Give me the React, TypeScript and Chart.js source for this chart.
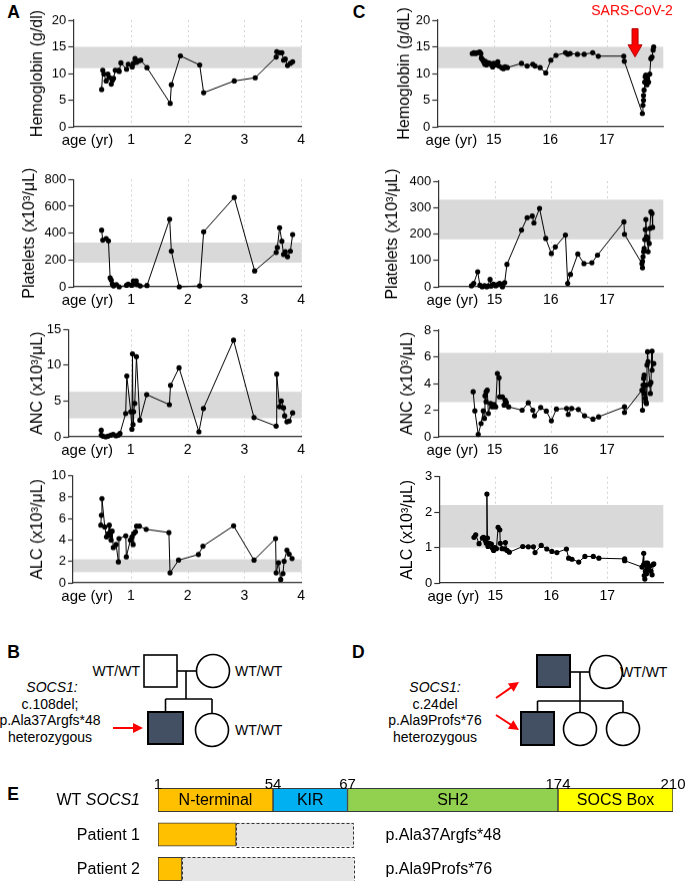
import React, { useEffect, useRef } from 'react';
import { Chart, registerables, LinearScale } from 'chart.js';

Chart.register(...registerables);

const FONT = "'Liberation Sans', Arial, Helvetica, sans-serif";
Chart.defaults.font.family = FONT;
Chart.defaults.color = '#000';

// ---------------- Panel A (patient 1, age in years) ----------------
const hbA_age = [0.48, 0.5, 0.52, 0.56, 0.59, 0.62, 0.65, 0.67, 0.69, 0.72, 0.78, 0.79, 0.82, 0.92, 0.95, 1.02, 1.04, 1.07, 1.1, 1.14, 1.17, 1.28, 1.69, 1.71, 1.87, 2.21, 2.28, 2.82, 3.19, 3.56, 3.57, 3.62, 3.66, 3.69, 3.72, 3.76, 3.81, 3.85];
const hbA = [7.0, 10.6, 9.9, 8.6, 9.9, 9.25, 8.0, 8.75, 9.1, 10.6, 10.6, 10.4, 12.0, 10.8, 11.75, 11.25, 11.9, 12.8, 12.1, 12.4, 12.5, 11.1, 4.4, 7.9, 13.3, 11.6, 6.4, 8.6, 9.2, 13.1, 14.1, 13.9, 13.9, 12.5, 12.7, 11.5, 11.9, 12.2];

const pltA_age = [0.48, 0.5, 0.56, 0.6, 0.63, 0.65, 0.67, 0.69, 0.74, 0.79, 0.92, 0.95, 1.01, 1.04, 1.07, 1.09, 1.11, 1.16, 1.28, 1.68, 1.71, 1.85, 2.21, 2.28, 2.82, 3.18, 3.56, 3.58, 3.62, 3.66, 3.69, 3.72, 3.76, 3.81, 3.85];
const pltA = [422, 348, 360, 343, 67, 50, 20, 7, 17, 0, 12, 20, 12, 45, 25, 45, 17, 7, 10, 504, 266, 0, 7, 410, 666, 119, 256, 293, 440, 340, 241, 261, 224, 266, 390];

const ancA_age = [0.48, 0.48, 0.51, 0.56, 0.6, 0.65, 0.69, 0.74, 0.78, 0.81, 0.91, 0.93, 1.0, 1.02, 1.03, 1.04, 1.05, 1.07, 1.1, 1.16, 1.28, 1.68, 1.7, 1.85, 2.2, 2.28, 2.81, 3.17, 3.56, 3.57, 3.62, 3.65, 3.69, 3.71, 3.75, 3.79, 3.85];
const ancA = [0.93, 0.23, 0.1, 0, 0.1, 0.23, 0.33, 0.14, 0.23, 0.47, 3.26, 8.5, 3.5, 1.07, 11.6, 1.72, 3.5, 4.66, 11.2, 2.33, 5.9, 4.5, 7.2, 9.64, 0.7, 3.96, 13.5, 2.7, 1.5, 8.76, 4.2, 5.0, 4.05, 2.93, 2.1, 2.2, 3.35];

const alcA_age = [0.47, 0.48, 0.49, 0.54, 0.57, 0.6, 0.62, 0.63, 0.65, 0.67, 0.69, 0.74, 0.78, 0.79, 0.91, 0.92, 0.99, 1.02, 1.04, 1.05, 1.08, 1.1, 1.15, 1.27, 1.67, 1.69, 1.84, 2.19, 2.27, 2.81, 3.17, 3.55, 3.56, 3.6, 3.64, 3.68, 3.7, 3.75, 3.79, 3.84];
const alcA = [5.39, 6.32, 7.88, 5.23, 4.3, 4.6, 5.39, 4.45, 3.99, 4.83, 3.3, 3.58, 1.96, 4.14, 4.39, 2.43, 3.99, 4.3, 3.58, 4.6, 4.77, 5.3, 5.3, 5.0, 4.7, 0.93, 2.12, 2.65, 3.43, 5.33, 2.12, 4.14, 0.93, 1.87, 0.31, 0.87, 2.02, 3.05, 2.68, 2.27];

// ---------------- Panel C (patient 2, age in years) ----------------
const hbC_age = [14.62, 14.65, 14.68, 14.71, 14.75, 14.77, 14.78, 14.8, 14.82, 14.84, 14.85, 14.87, 14.9, 14.93, 14.96, 14.98, 15.0, 15.04, 15.07, 15.09, 15.14, 15.17, 15.2, 15.24, 15.49, 15.59, 15.69, 15.73, 15.82, 15.92, 16.01, 16.1, 16.27, 16.31, 16.35, 16.48, 16.6, 16.75, 16.85, 17.3, 17.31, 17.63, 17.64, 17.65, 17.65, 17.66, 17.67, 17.68, 17.69, 17.7, 17.71, 17.72, 17.74, 17.76, 17.78, 17.8, 17.82, 17.83];
const hbC = [13.75, 13.9, 13.75, 13.9, 14.06, 13.75, 12.9, 12.6, 12.2, 11.75, 12.3, 11.6, 12.0, 11.9, 11.6, 11.25, 11.9, 11.6, 12.2, 11.4, 11.1, 10.9, 11.25, 11.1, 11.9, 11.4, 11.75, 11.4, 11.1, 10.1, 12.5, 13.4, 13.9, 13.6, 13.75, 13.6, 13.6, 13.9, 13.25, 13.25, 12.3, 2.5, 4.06, 5.0, 5.9, 6.9, 8.4, 9.4, 9.7, 8.75, 7.9, 9.06, 8.4, 9.9, 12.8, 13.1, 14.4, 15.0];

const pltC_age = [14.59, 14.63, 14.7, 14.74, 14.78, 14.82, 14.86, 14.88, 14.92, 14.94, 14.98, 15.02, 15.06, 15.09, 15.14, 15.15, 15.18, 15.22, 15.48, 15.58, 15.67, 15.7, 15.8, 15.91, 16.01, 16.08, 16.26, 16.3, 16.35, 16.48, 16.59, 16.73, 16.83, 17.3, 17.31, 17.62, 17.63, 17.63, 17.64, 17.65, 17.66, 17.67, 17.68, 17.69, 17.7, 17.71, 17.72, 17.73, 17.75, 17.76, 17.78, 17.8, 17.81];
const pltC = [4, 13, 57, 6, 0, 4, 0, 3, 28, 3, 10, 4, 9, 13, 0, 10, 16, 85, 215, 262, 268, 242, 297, 183, 126, 151, 196, 13, 47, 124, 88, 91, 120, 246, 199, 88, 72, 97, 114, 133, 145, 179, 217, 255, 189, 179, 187, 133, 164, 221, 284, 278, 225];

const ancC_age = [14.62, 14.65, 14.71, 14.76, 14.8, 14.82, 14.83, 14.85, 14.85, 14.87, 14.89, 14.93, 14.96, 14.99, 15.02, 15.05, 15.08, 15.09, 15.14, 15.17, 15.19, 15.21, 15.25, 15.49, 15.6, 15.68, 15.71, 15.82, 15.92, 16.01, 16.1, 16.28, 16.31, 16.37, 16.49, 16.6, 16.75, 16.85, 17.31, 17.31, 17.62, 17.63, 17.64, 17.65, 17.66, 17.66, 17.68, 17.69, 17.69, 17.7, 17.71, 17.72, 17.73, 17.76, 17.77, 17.78, 17.8, 17.8, 17.83];
const ancC = [3.38, 1.95, 0.18, 1.0, 1.95, 1.38, 3.08, 2.63, 3.38, 3.5, 1.75, 2.5, 2.25, 2.43, 2.25, 4.75, 4.43, 3.0, 3.0, 2.38, 2.75, 2.58, 2.25, 2.0, 2.55, 2.0, 1.58, 2.2, 1.93, 1.2, 2.08, 2.13, 1.68, 2.13, 2.05, 1.58, 1.33, 1.5, 2.25, 1.83, 3.5, 2.0, 3.88, 4.38, 4.63, 3.25, 2.88, 2.63, 3.88, 2.5, 5.38, 6.38, 5.63, 3.93, 3.25, 4.08, 6.43, 5.0, 5.5];

const alcC_age = [14.62, 14.65, 14.71, 14.77, 14.79, 14.82, 14.84, 14.85, 14.86, 14.87, 14.89, 14.93, 14.95, 14.97, 14.99, 15.02, 15.05, 15.08, 15.09, 15.12, 15.17, 15.18, 15.21, 15.25, 15.49, 15.59, 15.68, 15.71, 15.82, 15.92, 16.01, 16.1, 16.27, 16.31, 16.37, 16.49, 16.6, 16.75, 16.85, 17.31, 17.31, 17.62, 17.65, 17.65, 17.66, 17.67, 17.68, 17.69, 17.7, 17.71, 17.72, 17.74, 17.76, 17.78, 17.8, 17.82, 17.83];
const alcC = [1.29, 1.36, 1.11, 1.27, 1.29, 1.2, 1.12, 2.51, 1.27, 1.03, 1.12, 1.1, 0.98, 0.92, 1.0, 0.97, 1.57, 1.5, 1.12, 0.97, 0.96, 1.14, 0.92, 0.87, 1.03, 1.02, 1.02, 0.86, 1.06, 0.96, 0.89, 0.86, 0.96, 0.7, 0.67, 0.59, 0.75, 0.75, 0.7, 0.68, 0.63, 0.45, 0.84, 0.52, 0.21, 0.11, 0.33, 0.56, 0.26, 0.42, 0.56, 0.37, 0.47, 0.33, 0.23, 0.52, 0.54];

// reference ranges (grey bands)
const hbRange = [11, 15];
const pltRange = [180, 330];
const ancRange = [2.6, 6.3];
const alcRange = [1.0, 2.2];

// x tick labels (years)
const yearTicksA = [1, 2, 3, 4];
const yearTicksC = [15, 16, 17];
const ageLabel = 'age (yr)';

// SARS-CoV-2 marker
const sarsLabel = 'SARS-CoV-2';
const sarsAge = 17.5;
const sarsArrowFrom = 18.4;
const sarsArrowTo = 13.1;

// ---------------- Panel E (SOCS1 protein) ----------------
const rowLabels = ['WT SOCS1', 'Patient 1', 'Patient 2'];
const domainNames = ['N-terminal', 'KIR', 'SH2', 'SOCS Box'];
const domainBounds = [1, 54, 67, 174, 210];
const keptEnd = [37, 12];
const truncEnd = [70, 70];
const mutationLabels = ['p.Ala37Argfs*48', 'p.Ala9Profs*76'];
const domainColors = ['#FFC000', '#00B0F0', '#92D050', '#FFFF00'];
// drawn fraction of the bar length at each domain boundary (figure is not to scale)
const boundaryFractions = [0, 0.2233, 0.368, 0.7767, 1];

class PiecewiseScale extends LinearScale {
  static id = 'piecewise';
  getPixelForValue(value: number) {
    const b = domainBounds;
    const f = boundaryFractions;
    let i = 0;
    while (i < b.length - 2 && value > b[i + 1]) i++;
    const dec = f[i] + ((value - b[i]) / (b[i + 1] - b[i])) * (f[i + 1] - f[i]);
    return this.getPixelForDecimal(dec);
  }
  getValueForPixel(pixel: number) {
    const dec = this.getDecimalForPixel(pixel);
    const b = domainBounds;
    const f = boundaryFractions;
    let i = 0;
    while (i < f.length - 2 && dec > f[i + 1]) i++;
    return b[i] + ((dec - f[i]) / (f[i + 1] - f[i])) * (b[i + 1] - b[i]);
  }
}
Chart.register(PiecewiseScale as any);

// ---------------- chart builders ----------------
type Spec = {
  key: string;
  canvasLeft: number;
  canvasTop: number;
  canvasW: number;
  plotLeft: number;
  plotRight: number;
  plotTop: number;
  plotBottom: number;
  ages: number[];
  vals: number[];
  xMin: number;
  xMax: number;
  xTicks: number[];
  ageAt: number;
  yMax: number;
  yStep: number;
  band: number[];
  title: string;
  titleX: number;
  sars?: boolean;
};

const X_AXIS_H = 30;

function bandPlugin(band: number[], gridAt: number[]) {
  return {
    id: 'refBand',
    beforeDraw(chart: any) {
      const { ctx, chartArea, scales } = chart;
      const x = scales.x;
      const y = scales.y;
      ctx.save();
      ctx.strokeStyle = '#d2d2d2';
      ctx.lineWidth = 1;
      ctx.setLineDash([2, 3]);
      gridAt.forEach((v) => {
        const px = Math.round(x.getPixelForValue(v)) + 0.5;
        ctx.beginPath();
        ctx.moveTo(px, chartArea.top);
        ctx.lineTo(px, chartArea.bottom);
        ctx.stroke();
      });
      ctx.setLineDash([]);
      const yHi = y.getPixelForValue(band[1]);
      const yLo = y.getPixelForValue(band[0]);
      ctx.fillStyle = '#d9d9d9';
      ctx.fillRect(chartArea.left, yHi, chartArea.right - chartArea.left, yLo - yHi);
      ctx.restore();
    },
  };
}

function yTitlePlugin(text: string, cx: number) {
  return {
    id: 'yTitle',
    afterDraw(chart: any) {
      const { ctx, chartArea } = chart;
      ctx.save();
      ctx.translate(cx, (chartArea.top + chartArea.bottom) / 2);
      ctx.rotate(-Math.PI / 2);
      ctx.font = `16px ${FONT}`;
      ctx.fillStyle = '#000';
      ctx.textAlign = 'center';
      ctx.textBaseline = 'middle';
      ctx.fillText(text, 0, 0);
      ctx.restore();
    },
  };
}

const sarsPlugin = {
  id: 'sars',
  afterDatasetsDraw(chart: any) {
    const { ctx, scales } = chart;
    const x = scales.x;
    const y = scales.y;
    const px = x.getPixelForValue(sarsAge);
    const yTop = y.getPixelForValue(sarsArrowFrom);
    const yTip = y.getPixelForValue(sarsArrowTo);
    const shaft = 3;
    const head = 7;
    const headLen = 12;
    ctx.save();
    ctx.beginPath();
    ctx.moveTo(px - shaft, yTop);
    ctx.lineTo(px + shaft, yTop);
    ctx.lineTo(px + shaft, yTip - headLen);
    ctx.lineTo(px + head, yTip - headLen);
    ctx.lineTo(px, yTip);
    ctx.lineTo(px - head, yTip - headLen);
    ctx.lineTo(px - shaft, yTip - headLen);
    ctx.closePath();
    ctx.fillStyle = '#FF0000';
    ctx.fill();
    ctx.strokeStyle = '#B00000';
    ctx.lineWidth = 1;
    ctx.stroke();
    ctx.font = `14px ${FONT}`;
    ctx.fillStyle = '#FF0000';
    ctx.textAlign = 'center';
    ctx.textBaseline = 'middle';
    ctx.fillText(sarsLabel, px - 3, y.getPixelForValue(21.6));
    ctx.restore();
  },
};

function canvasHeight(s: Spec) {
  return s.plotBottom + X_AXIS_H - s.canvasTop;
}

function lineConfig(s: Spec): any {
  const isAge = (v: number) => Math.abs(v - s.ageAt) < 1e-9;
  const plugins: any[] = [bandPlugin(s.band, s.xTicks), yTitlePlugin(s.title, s.titleX - s.canvasLeft)];
  if (s.sars) plugins.push(sarsPlugin);
  return {
    type: 'line',
    data: {
      datasets: [
        {
          data: s.ages.map((a, i) => ({ x: a, y: s.vals[i] })),
          borderColor: '#000',
          borderWidth: 1,
          pointRadius: 2.6,
          pointHoverRadius: 2.6,
          pointBackgroundColor: '#000',
          pointBorderWidth: 0,
          tension: 0,
          fill: false,
          clip: false,
        },
      ],
    },
    options: {
      animation: false,
      responsive: false,
      maintainAspectRatio: false,
      events: [],
      layout: {
        padding: {
          left: 0,
          top: s.plotTop - s.canvasTop,
          right: s.canvasLeft + s.canvasW - s.plotRight,
          bottom: 0,
        },
      },
      plugins: { legend: { display: false }, tooltip: { enabled: false } },
      scales: {
        x: {
          type: 'linear',
          min: s.xMin,
          max: s.xMax,
          afterBuildTicks: (sc: any) => {
            sc.ticks = [s.ageAt, ...s.xTicks].map((v) => ({ value: v }));
          },
          afterFit: (sc: any) => {
            sc.height = X_AXIS_H;
          },
          grid: { display: false, drawTicks: false },
          border: { display: true, color: '#333', width: 1.2 },
          ticks: {
            autoSkip: false,
            maxRotation: 0,
            minRotation: 0,
            padding: 4.5,
            color: '#000',
            font: (ctx: any) => ({ family: FONT, size: ctx.tick && isAge(ctx.tick.value) ? 15 : 14 }),
            callback: (v: any) => (isAge(Number(v)) ? ageLabel : String(v)),
          },
        },
        y: {
          type: 'linear',
          min: 0,
          max: s.yMax,
          afterFit: (sc: any) => {
            sc.width = s.plotLeft - s.canvasLeft;
          },
          ticks: { stepSize: s.yStep, padding: 2, color: '#000', font: { family: FONT, size: 13 } },
          grid: {
            drawOnChartArea: false,
            drawTicks: true,
            tickLength: 5,
            color: '#333',
            tickColor: '#333',
            tickWidth: 1.2,
          },
          border: { color: '#333', width: 1.2 },
        },
      },
    },
    plugins,
  };
}

const A = { canvasLeft: 0, canvasW: 320, plotRight: 301.7, xMin: -0.02, xMax: 4.01, xTicks: yearTicksA, ageAt: 0.23 };
const C = { canvasLeft: 340, canvasW: 355, plotRight: 663.3, xMin: 14, xMax: 18, xTicks: yearTicksC, ageAt: 14.25 };

const specs: Spec[] = [
  { key: 'hbA', ...A, canvasTop: 0, plotLeft: 73.3, plotTop: 20, plotBottom: 126.7, ages: hbA_age, vals: hbA, yMax: 20, yStep: 5, band: hbRange, title: 'Hemoglobin (g/dl)', titleX: 37.8 },
  { key: 'pltA', ...A, canvasTop: 157, plotLeft: 73.3, plotTop: 179.3, plotBottom: 286.7, ages: pltA_age, vals: pltA, yMax: 800, yStep: 200, band: pltRange, title: 'Platelets (x10³/μL)', titleX: 30 },
  { key: 'ancA', ...A, xMin: -0.1, canvasTop: 307, plotLeft: 68.3, plotTop: 329.3, plotBottom: 436.7, ages: ancA_age, vals: ancA, yMax: 15, yStep: 5, band: ancRange, title: 'ANC (x10³/μL)', titleX: 37.5 },
  { key: 'alcA', ...A, canvasTop: 453, plotLeft: 73, plotTop: 475.7, plotBottom: 582.7, ages: alcA_age, vals: alcA, yMax: 10, yStep: 2, band: alcRange, title: 'ALC (x10³/μL)', titleX: 37.5 },
  { key: 'hbC', ...C, canvasTop: 0, plotLeft: 437.3, plotTop: 20, plotBottom: 126.7, ages: hbC_age, vals: hbC, yMax: 20, yStep: 5, band: hbRange, title: 'Hemoglobin (g/dL)', titleX: 405, sars: true },
  { key: 'pltC', ...C, canvasTop: 159, plotLeft: 438.3, plotTop: 181, plotBottom: 286.7, ages: pltC_age, vals: pltC, yMax: 400, yStep: 100, band: pltRange, title: 'Platelets (x10³/μL)', titleX: 393 },
  { key: 'ancC', ...C, canvasTop: 308, plotLeft: 438.3, plotTop: 330, plotBottom: 436.7, ages: ancC_age, vals: ancC, yMax: 8, yStep: 2, band: ancRange, title: 'ANC (x10³/μL)', titleX: 408 },
  { key: 'alcC', ...C, canvasTop: 454, plotLeft: 439.3, plotTop: 476.7, plotBottom: 583.3, ages: alcC_age, vals: alcC, yMax: 3, yStep: 1, band: alcRange, title: 'ALC (x10³/μL)', titleX: 408 },
];

// ---------------- Panel E chart ----------------
const proteinPlugin = {
  id: 'proteinLabels',
  afterDatasetsDraw(chart: any) {
    const { ctx, scales } = chart;
    const x = scales.x;
    const y = scales.y;
    ctx.save();
    // dashed outline of the lost (truncated) part
    const lostMeta = chart.getDatasetMeta(domainNames.length);
    lostMeta.data.forEach((el: any, i: number) => {
      if (!el || i === 0) return;
      const p = el.getProps(['x', 'y', 'base', 'height'], true);
      if (!isFinite(p.x) || !isFinite(p.base)) return;
      const l = Math.min(p.x, p.base);
      const w = Math.abs(p.x - p.base);
      ctx.strokeStyle = '#333';
      ctx.lineWidth = 1;
      ctx.setLineDash([3, 2]);
      ctx.strokeRect(Math.round(l) + 0.5, Math.round(p.y - p.height / 2) + 0.5, Math.round(w), Math.round(p.height));
    });
    ctx.setLineDash([]);
    ctx.fillStyle = '#000';
    // domain names inside WT bar
    ctx.font = `16px ${FONT}`;
    ctx.textAlign = 'center';
    ctx.textBaseline = 'middle';
    const wy = y.getPixelForValue(0);
    domainNames.forEach((name, i) => {
      const cx = x.getPixelForValue((domainBounds[i] + domainBounds[i + 1]) / 2);
      ctx.fillText(name, cx, wy + 1);
    });
    // boundary numbers
    const wtEl = chart.getDatasetMeta(0).data[0];
    const barTop = wtEl.y - wtEl.height / 2;
    ctx.font = `15px ${FONT}`;
    ctx.textBaseline = 'alphabetic';
    domainBounds.forEach((b) => {
      ctx.fillText(String(b), x.getPixelForValue(b), barTop + 1);
    });
    // row labels
    const labelRight = chart.chartArea.left - 18;
    ctx.textBaseline = 'middle';
    ctx.textAlign = 'left';
    rowLabels.forEach((lab, r) => {
      const ry = y.getPixelForValue(r) + 1;
      if (r === 0) {
        const parts = lab.split(' ');
        ctx.font = `italic 16px ${FONT}`;
        const w2 = ctx.measureText(parts[1]).width;
        ctx.font = `16px ${FONT}`;
        const w1 = ctx.measureText(parts[0] + ' ').width;
        ctx.fillText(parts[0] + ' ', labelRight - w1 - w2, ry);
        ctx.font = `italic 16px ${FONT}`;
        ctx.fillText(parts[1], labelRight - w2, ry);
      } else {
        ctx.font = `16px ${FONT}`;
        const w = ctx.measureText(lab).width;
        ctx.fillText(lab, labelRight - w, ry);
        ctx.fillText(mutationLabels[r - 1], x.getPixelForValue(truncEnd[r - 1]) + 32, ry);
      }
    });
    ctx.restore();
  },
};

function proteinConfig(): any {
  const datasets: any[] = domainNames.map((name, i) => ({
    label: name,
    data: rowLabels.map((_, r) => {
      if (r === 0) return [domainBounds[i], domainBounds[i + 1]];
      if (i === 0) return [domainBounds[0], keptEnd[r - 1]];
      return null;
    }),
    backgroundColor: domainColors[i],
    borderColor: '#3a3a3a',
    borderWidth: 1,
    borderSkipped: false,
    grouped: false,
    barThickness: 23.5,
  }));
  datasets.push({
    label: 'lost',
    data: rowLabels.map((_, r) => (r === 0 ? null : [keptEnd[r - 1], truncEnd[r - 1]])),
    backgroundColor: '#E7E6E6',
    borderWidth: 0,
    grouped: false,
    barThickness: 23.5,
  });
  return {
    type: 'bar',
    data: { labels: rowLabels, datasets },
    options: {
      indexAxis: 'y',
      animation: false,
      responsive: false,
      maintainAspectRatio: false,
      events: [],
      layout: { padding: { left: 158, right: 22, top: 12.75, bottom: 3.75 } },
      plugins: { legend: { display: false }, tooltip: { enabled: false } },
      scales: {
        x: { type: 'piecewise', min: 1, max: 210, display: false },
        y: { type: 'category', display: false, offset: true },
      },
    },
    plugins: [proteinPlugin],
  };
}

// ---------------- React ----------------
function CanvasChart(props: { left: number; top: number; width: number; height: number; make: () => any }) {
  const ref = useRef<HTMLCanvasElement | null>(null);
  useEffect(() => {
    const chart = new Chart(ref.current as HTMLCanvasElement, props.make());
    return () => chart.destroy();
  }, []);
  return (
    <canvas
      ref={ref}
      width={props.width}
      height={props.height}
      style={{ position: 'absolute', left: props.left, top: props.top, width: props.width, height: props.height, display: 'block' }}
    />
  );
}

function Arrow({ x1, y1, x2, y2 }: { x1: number; y1: number; x2: number; y2: number }) {
  const dx = x2 - x1;
  const dy = y2 - y1;
  const len = Math.sqrt(dx * dx + dy * dy);
  const ux = dx / len;
  const uy = dy / len;
  const hl = 10;
  const hw = 5;
  const bx = x2 - ux * hl;
  const by = y2 - uy * hl;
  const nx = -uy * hw;
  const ny = ux * hw;
  return (
    <g>
      <line x1={x1} y1={y1} x2={bx + ux} y2={by + uy} stroke="#FF0000" strokeWidth={2} />
      <polygon points={`${x2},${y2} ${bx + nx},${by + ny} ${bx - nx},${by - ny}`} fill="#FF0000" />
    </g>
  );
}

const AFFECTED = '#434F63';

function Diagrams() {
  const sw = 1.6;
  const txt = { fontSize: 14, fill: '#000' } as any;
  return (
    <svg width={695} height={881} style={{ position: 'absolute', left: 0, top: 0 }} fontFamily={FONT}>
      <g fontSize={17.5} fontWeight="bold" fill="#000">
        <text x={7.3} y={18.3}>A</text>
        <text x={352.7} y={18.3}>C</text>
        <text x={7.3} y={658}>B</text>
        <text x={352} y={658}>D</text>
        <text x={7.3} y={800}>E</text>
      </g>
      {/* Pedigree B */}
      <g stroke="#000" strokeWidth={sw}>
        <line x1={177} y1={671} x2={196.5} y2={671} />
        <line x1={186} y1={671} x2={186} y2={699} />
        <line x1={165.5} y1={699} x2={212} y2={699} />
        <line x1={165.5} y1={699} x2={165.5} y2={712} />
        <line x1={212} y1={699} x2={212} y2={713.5} />
        <rect x={144} y={655} width={33} height={32} fill="#fff" />
        <circle cx={213} cy={671} r={16.5} fill="#fff" />
        <rect x={148} y={712} width={35} height={32} fill={AFFECTED} strokeWidth={2} />
        <circle cx={212} cy={730} r={16.5} fill="#fff" />
      </g>
      <g {...txt} dominantBaseline="central">
        <text x={140} y={671} textAnchor="end">WT/WT</text>
        <text x={235} y={671}>WT/WT</text>
        <text x={235} y={730}>WT/WT</text>
      </g>
      <g {...txt} dominantBaseline="central" textAnchor="middle">
        <text x={52} y={687} fontStyle="italic">SOCS1:</text>
        <text x={50} y={703.5}>c.108del;</text>
        <text x={50} y={720}>p.Ala37Argfs*48</text>
        <text x={50} y={736.5}>heterozygous</text>
      </g>
      <Arrow x1={113} y1={728} x2={143} y2={728} />
      {/* Pedigree D */}
      <g stroke="#000" strokeWidth={sw}>
        <line x1={570} y1={672} x2={589.5} y2={672} />
        <line x1={580} y1={672} x2={580} y2={712.5} />
        <line x1={537.5} y1={701} x2={623} y2={701} />
        <line x1={537.5} y1={701} x2={537.5} y2={712} />
        <line x1={623} y1={701} x2={623} y2={712.5} />
        <rect x={537} y={655} width={33} height={32} fill={AFFECTED} strokeWidth={2} />
        <circle cx={606} cy={672} r={16.5} fill="#fff" />
        <rect x={521} y={712} width={33} height={33} fill={AFFECTED} strokeWidth={2} />
        <circle cx={580} cy={729} r={16.5} fill="#fff" />
        <circle cx={623} cy={729} r={16.5} fill="#fff" />
      </g>
      <g {...txt} dominantBaseline="central">
        <text x={620} y={672}>WT/WT</text>
      </g>
      <g {...txt} dominantBaseline="central" textAnchor="middle">
        <text x={435} y={687} fontStyle="italic">SOCS1:</text>
        <text x={435} y={703.5}>c.24del</text>
        <text x={435} y={720}>p.Ala9Profs*76</text>
        <text x={435} y={736.5}>heterozygous</text>
      </g>
      <Arrow x1={496} y1={698} x2={519} y2={682} />
      <Arrow x1={496} y1={715} x2={519} y2={730} />
    </svg>
  );
}

export default function App() {
  return (
    <div style={{ position: 'absolute', left: 0, top: 0, width: 695, height: 881, overflow: 'hidden', background: '#fff' }}>
      <Diagrams />
      {specs.map((s) => (
        <CanvasChart
          key={s.key}
          left={s.canvasLeft}
          top={s.canvasTop}
          width={s.canvasW}
          height={canvasHeight(s)}
          make={() => lineConfig(s)}
        />
      ))}
      <CanvasChart left={0} top={770} width={695} height={120} make={proteinConfig} />
    </div>
  );
}
